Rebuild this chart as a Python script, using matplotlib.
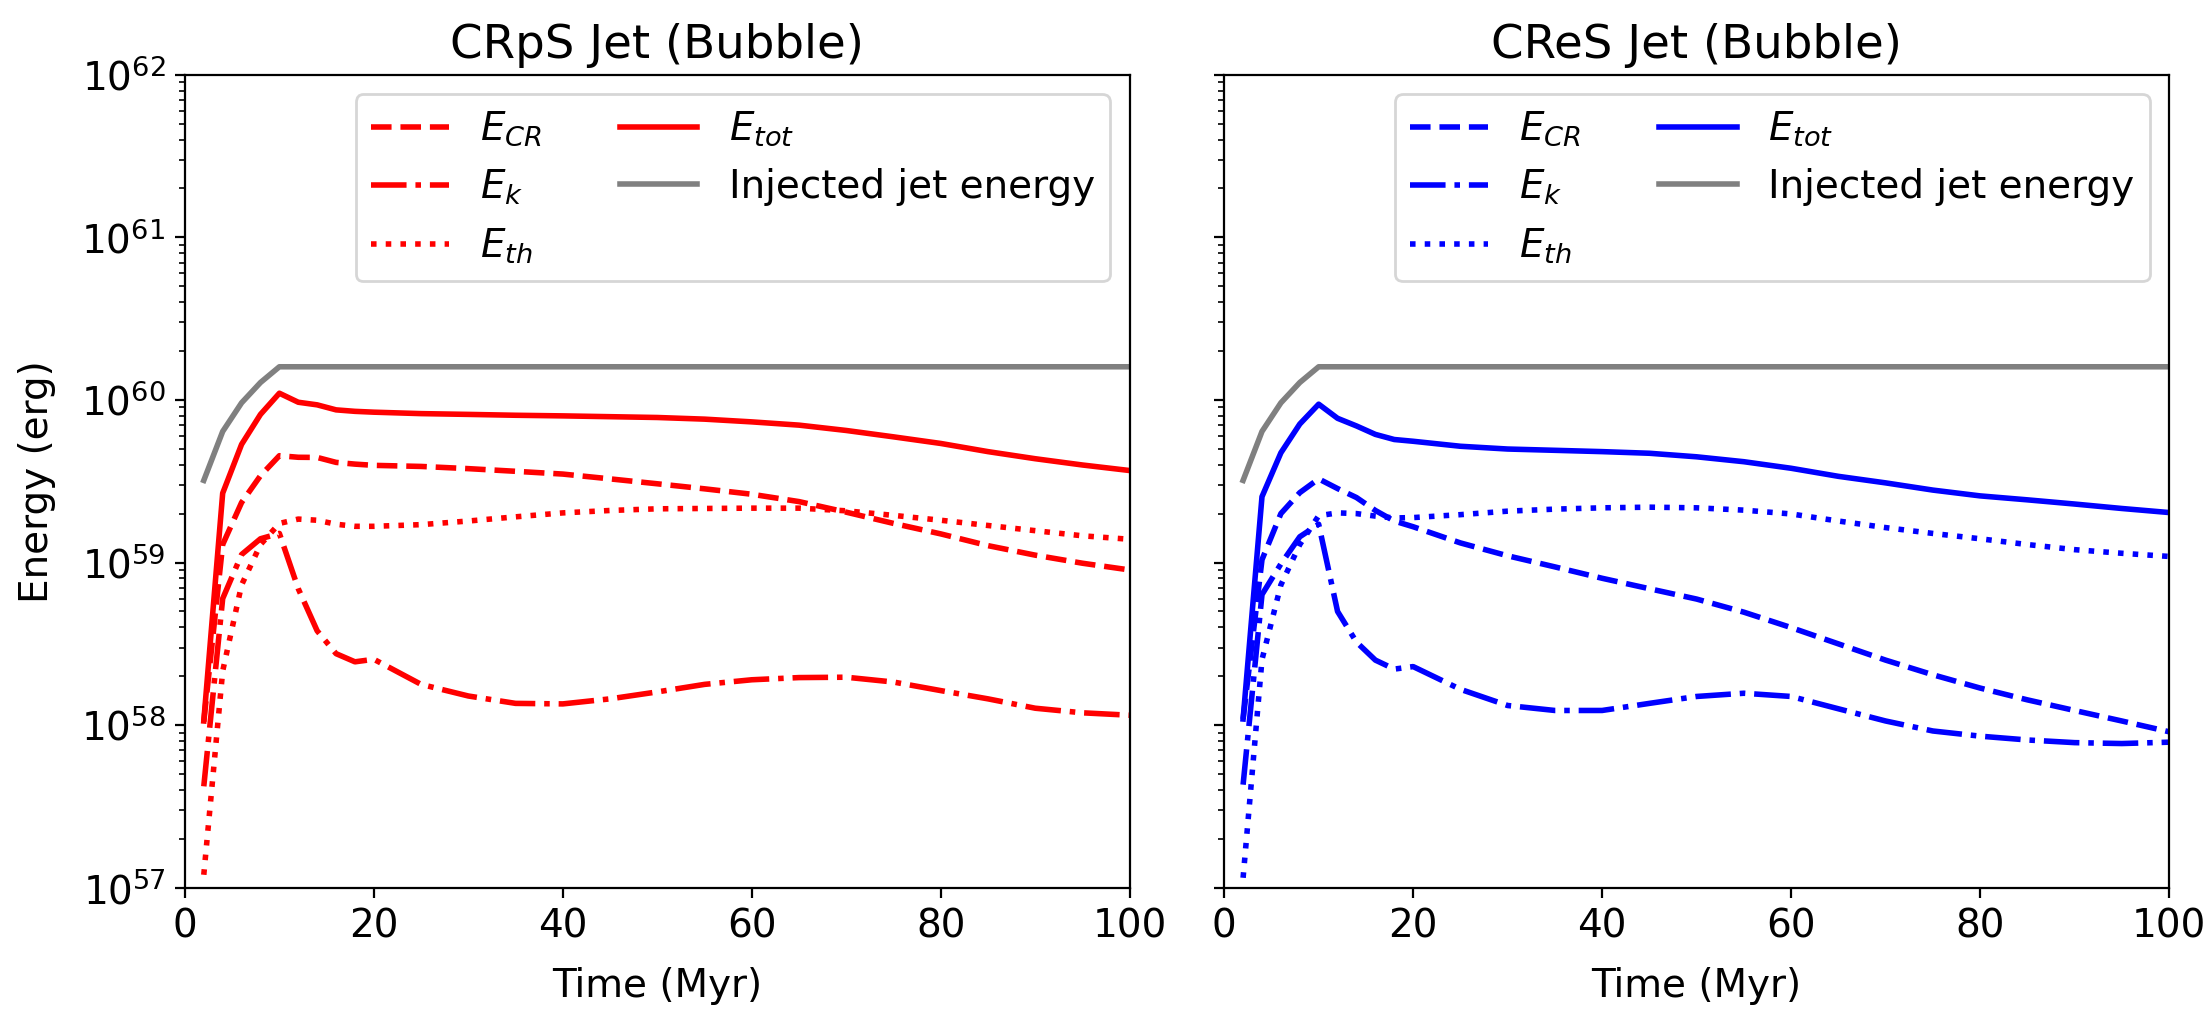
import numpy as np
import matplotlib
matplotlib.use('Agg')
import matplotlib.pyplot as plt

plt.rcParams['font.size'] = 14

# tijd (Myr)
tijd = [2, 4, 6, 8, 10, 12, 14, 16, 18, 20, 25, 30, 35, 40, 45, 50, 55, 60,
        65, 70, 75, 80, 85, 90, 95, 100]

# geinjecteerde jet energie (erg), zelfde voor beide panelen
e_inj = [3.2e59, 6.4e59, 9.6e59, 1.28e60, 1.6e60, 1.6e60, 1.6e60, 1.6e60, 1.6e60,
         1.6e60, 1.6e60, 1.6e60, 1.6e60, 1.6e60, 1.6e60, 1.6e60, 1.6e60, 1.6e60,
         1.6e60, 1.6e60, 1.6e60, 1.6e60, 1.6e60, 1.6e60, 1.6e60, 1.6e60]

# CRpS jet
p_tot = [1.06e58, 2.67e59, 5.33e59, 8.15e59, 1.10e60, 9.68e59, 9.33e59, 8.69e59, 8.51e59,
         8.41e59, 8.24e59, 8.15e59, 8.05e59, 7.98e59, 7.89e59, 7.80e59, 7.62e59, 7.33e59,
         7.00e59, 6.49e59, 5.93e59, 5.40e59, 4.81e59, 4.35e59, 3.98e59, 3.68e59]
p_cr = [1.05e58, 1.29e59, 2.34e59, 3.42e59, 4.54e59, 4.44e59, 4.43e59, 4.13e59, 4.03e59,
        3.96e59, 3.90e59, 3.78e59, 3.64e59, 3.50e59, 3.27e59, 3.05e59, 2.84e59, 2.63e59,
        2.37e59, 2.04e59, 1.74e59, 1.50e59, 1.27e59, 1.11e59, 9.9e58, 9.0e58]
p_k = [4.2e57, 6.0e58, 1.12e59, 1.40e59, 1.51e59, 6.9e58, 3.8e58, 2.75e58, 2.45e58,
       2.54e58, 1.78e58, 1.51e58, 1.36e58, 1.35e58, 1.45e58, 1.60e58, 1.78e58, 1.90e58,
       1.96e58, 1.97e58, 1.84e58, 1.63e58, 1.45e58, 1.27e58, 1.19e58, 1.15e58]
p_th = [1.2e57, 2.15e58, 7.28e58, 1.29e59, 1.74e59, 1.85e59, 1.82e59, 1.72e59, 1.67e59,
        1.67e59, 1.71e59, 1.80e59, 1.91e59, 2.02e59, 2.09e59, 2.14e59, 2.15e59, 2.16e59,
        2.16e59, 2.08e59, 1.95e59, 1.82e59, 1.69e59, 1.57e59, 1.46e59, 1.39e59]

# CReS jet
e_tot = [1.09e58, 2.54e59, 4.73e59, 7.11e59, 9.42e59, 7.71e59, 6.92e59, 6.14e59, 5.71e59,
         5.57e59, 5.19e59, 4.99e59, 4.90e59, 4.81e59, 4.70e59, 4.47e59, 4.17e59, 3.80e59,
         3.39e59, 3.09e59, 2.79e59, 2.57e59, 2.43e59, 2.29e59, 2.15e59, 2.03e59]
e_cr = [1.09e58, 1.04e59, 2.0e59, 2.69e59, 3.27e59, 2.85e59, 2.51e59, 2.09e59, 1.80e59,
        1.66e59, 1.32e59, 1.10e59, 9.4e58, 8.0e58, 6.9e58, 5.96e58, 4.95e58, 3.98e58,
        3.16e58, 2.51e58, 2.04e58, 1.69e58, 1.43e58, 1.23e58, 1.06e58, 9.1e57]
e_k = [4.3e57, 6.35e58, 9.8e58, 1.44e59, 1.72e59, 5.0e58, 3.24e58, 2.51e58, 2.21e58,
       2.29e58, 1.66e58, 1.32e58, 1.23e58, 1.23e58, 1.36e58, 1.50e58, 1.57e58, 1.50e58,
       1.26e58, 1.06e58, 9.2e57, 8.55e57, 8.1e57, 7.8e57, 7.7e57, 7.85e57]
e_th = [1.15e57, 2.53e58, 7.28e58, 1.29e59, 1.94e59, 2.02e59, 2.0e59, 1.93e59, 1.88e59,
        1.89e59, 1.97e59, 2.07e59, 2.13e59, 2.17e59, 2.19e59, 2.17e59, 2.10e59, 1.99e59,
        1.80e59, 1.64e59, 1.51e59, 1.40e59, 1.29e59, 1.20e59, 1.14e59, 1.09e59]

panelen = [
    ('CRpS Jet (Bubble)', 'red', p_cr, p_k, p_th, p_tot),
    ('CReS Jet (Bubble)', 'blue', e_cr, e_k, e_th, e_tot),
]

fig, axes = plt.subplots(1, 2, figsize=(11.045, 5.055), dpi=200, sharey=True)
fig.subplots_adjust(left=0.0837, right=0.9819, bottom=0.122, top=0.926, wspace=0.1)

for ax, (titel, kleur, cr, k, th, tot) in zip(axes, panelen):
    ax.plot(tijd, cr, '--', color=kleur, lw=2, label=r'$E_{CR}$')
    ax.plot(tijd, k, '-.', color=kleur, lw=2, label=r'$E_{k}$')
    ax.plot(tijd, th, ':', color=kleur, lw=2, label=r'$E_{th}$')
    ax.plot(tijd, tot, '-', color=kleur, lw=2, label=r'$E_{tot}$')
    ax.plot(tijd, e_inj, '-', color='gray', lw=2, label='Injected jet energy')
    ax.set_yscale('log')
    ax.set_xlim(0, 100)
    ax.set_ylim(1e57, 1e62)
    ax.set_title(titel)
    ax.set_xlabel('Time (Myr)', labelpad=8)
    ax.legend(ncol=2, loc='upper right')

axes[0].set_ylabel('Energy (erg)', labelpad=9)

fig.savefig('out.png', dpi=200)
